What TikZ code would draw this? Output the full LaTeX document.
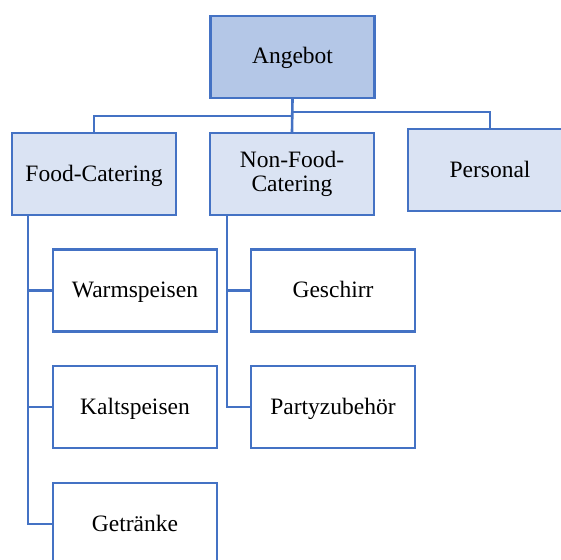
\documentclass[tikz,border=0pt]{standalone}
\usepackage{fontspec}
\setmainfont{Liberation Serif}
\definecolor{edgeblue}{HTML}{4472C4}
\definecolor{rootfill}{HTML}{B4C7E7}
\definecolor{levelfill}{HTML}{DAE3F3}
\begin{document}
\begin{tikzpicture}[x=1pt,y=1pt,
  box/.style={draw=edgeblue, line width=2.4pt, minimum width=164pt, minimum height=82pt,
    inner sep=0pt, align=center, font=\fontsize{23.5}{24}\selectfont},
  oneline/.style={text height=14pt, text depth=0pt},
  rootbox/.style={box, oneline, fill=rootfill},
  levelbox/.style={box, fill=levelfill},
  leafbox/.style={box, oneline, fill=white},
  link/.style={draw=edgeblue, line width=2.6pt}]
\clip (0,0) rectangle (561,-559);
\fill[white] (0,0) rectangle (561,-559);

% top level
\node[rootbox] (ang) at (292.5,-57) {Angebot};

% second level
\node[levelbox, oneline] (food) at (94,-174) {Food-Catering};
\node[levelbox] (nonfood) at (292,-174) {Non-Food-\\Catering};
\node[levelbox, oneline] (pers) at (490,-170) {Personal};

% leaves
\node[leafbox] (warm) at (135,-290.5) {Warmspeisen};
\node[leafbox] (kalt) at (135,-407) {Kaltspeisen};
\node[leafbox] (getr) at (135,-524) {Getränke};
\node[leafbox] (gesch) at (333,-290.5) {Geschirr};
\node[leafbox] (party) at (333,-407) {Partyzubehör};

% branch junctions below the root
\coordinate (jr) at (292.5,-112);
\coordinate (jl) at (292.5,-116);
\coordinate (fs) at (28,-215);
\coordinate (ns) at (227,-215);

\path[link] (ang.south) -- (nonfood.north);
\path[link] (jr) -| (pers.north);
\path[link] (jl) -| (food.north);

% food catering children
\path[link] (fs) |- (getr.west);
\path[link] (fs |- warm.west) -- (warm.west);
\path[link] (fs |- kalt.west) -- (kalt.west);

% non-food catering children
\path[link] (ns) |- (party.west);
\path[link] (ns |- gesch.west) -- (gesch.west);
\end{tikzpicture}
\end{document}
